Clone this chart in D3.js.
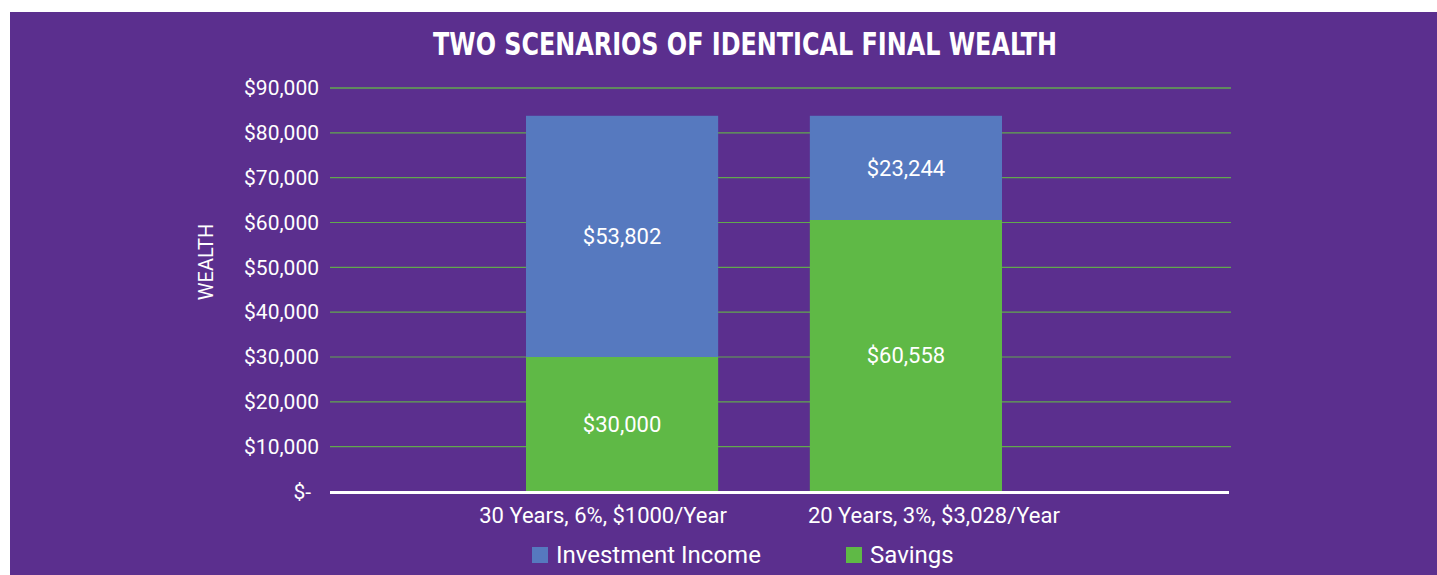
<!DOCTYPE html>
<html>
<head>
<meta charset="utf-8">
<script src="https://cdn.jsdelivr.net/npm/d3@7"></script>
<style>
  body { margin: 0; background: #ffffff; }
  svg text { font-family: Roboto, "Open Sans", sans-serif; fill: #ffffff; }
</style>
</head>
<body>
<svg id="chart"></svg>
<script>
// chart data
const categories = ['30 Years, 6%, $1000/Year', '20 Years, 3%, $3,028/Year'];
const savings = [30000, 60558];
const investmentIncome = [53802, 23244];
const seriesNames = ['Investment Income', 'Savings'];
const yTicks = [0, 10000, 20000, 30000, 40000, 50000, 60000, 70000, 80000, 90000];

const width = 1437, height = 575;
const colors = { 'Savings': '#5fb946', 'Investment Income': '#5679bf' };

const svg = d3.select('#chart')
    .attr('width', width)
    .attr('height', height);

svg.append('rect')
    .attr('x', 10).attr('y', 12)
    .attr('width', width - 10).attr('height', height - 12)
    .attr('fill', '#5b2f8e');

svg.append('text')
    .attr('x', 745).attr('y', 55)
    .attr('text-anchor', 'middle')
    .attr('textLength', 624)
    .attr('lengthAdjust', 'spacingAndGlyphs')
    .style('font-family', '"DejaVu Sans Condensed", "DejaVu Sans", sans-serif')
    .style('font-weight', 'bold')
    .style('font-size', '32px')
    .text('TWO SCENARIOS OF IDENTICAL FINAL WEALTH');

const plot = { left: 330, right: 1231, top: 88, bottom: 491.5 };

const yScale = d3.scaleLinear()
    .domain([0, 90000])
    .range([plot.bottom, plot.top]);

const xScale = d3.scaleBand()
    .domain(categories)
    .range([526, 1002])
    .paddingInner(0.323)
    .paddingOuter(0);

// grid lines
svg.append('g')
    .selectAll('line')
    .data(yTicks.filter(d => d > 0))
    .join('line')
    .attr('x1', plot.left).attr('x2', plot.right)
    .attr('y1', d => yScale(d)).attr('y2', d => yScale(d))
    .attr('stroke', '#62a84e')
    .attr('stroke-width', d => d === 90000 ? 1.6 : 1.1);

// y axis labels
const yAxis = d3.axisLeft(yScale)
    .tickValues(yTicks)
    .tickSize(0)
    .tickPadding(11)
    .tickFormat(d => d === 0 ? '$-' : '$' + d3.format(',')(d));

const yAxisG = svg.append('g')
    .attr('transform', `translate(${plot.left},0)`)
    .call(yAxis);
yAxisG.select('.domain').remove();
yAxisG.selectAll('text')
    .style('font-size', '21px')
    .style('font-weight', 400)
    .attr('fill', '#ffffff')
    .attr('dx', d => d === 0 ? -8 : 0);

// stacked bars
const rows = categories.map((c, i) => ({
    category: c,
    'Savings': savings[i],
    'Investment Income': investmentIncome[i]
}));
const stack = d3.stack().keys(['Savings', 'Investment Income'])(rows);

const layers = svg.append('g')
    .selectAll('g')
    .data(stack)
    .join('g')
    .attr('fill', d => colors[d.key]);

layers.selectAll('rect')
    .data(d => d)
    .join('rect')
    .attr('x', d => xScale(d.data.category))
    .attr('width', xScale.bandwidth())
    .attr('y', d => yScale(d[1]))
    .attr('height', d => yScale(d[0]) - yScale(d[1]));

layers.selectAll('text')
    .data(d => d)
    .join('text')
    .attr('x', d => xScale(d.data.category) + xScale.bandwidth() / 2)
    .attr('y', d => (yScale(d[0]) + yScale(d[1])) / 2)
    .attr('dy', '0.35em')
    .attr('text-anchor', 'middle')
    .style('font-size', '22px')
    .style('font-weight', 400)
    .text(d => '$' + d3.format(',')(d[1] - d[0]));

// baseline
svg.append('line')
    .attr('x1', plot.left).attr('x2', 1229)
    .attr('y1', yScale(0) + 1).attr('y2', yScale(0) + 1)
    .attr('stroke', '#ffffff')
    .attr('stroke-width', 3);

// category labels (offset like the original)
const labelShift = [-19, 28];
svg.append('g')
    .selectAll('text')
    .data(categories)
    .join('text')
    .attr('x', (d, i) => xScale(d) + xScale.bandwidth() / 2 + labelShift[i])
    .attr('y', 523)
    .attr('text-anchor', 'middle')
    .style('font-size', '22px')
    .style('font-weight', 400)
    .text(d => d);

// y axis title
svg.append('text')
    .attr('transform', 'translate(213,262) rotate(-90)')
    .attr('text-anchor', 'middle')
    .style('font-size', '20px')
    .style('font-weight', 400)
    .text('WEALTH');

// legend
const legendX = [532, 846];
const legend = svg.append('g')
    .selectAll('g')
    .data(seriesNames)
    .join('g')
    .attr('transform', (d, i) => `translate(${legendX[i]},547)`);

legend.append('rect')
    .attr('width', 16).attr('height', 16)
    .attr('fill', d => colors[d]);

legend.append('text')
    .attr('x', 24).attr('y', 15.5)
    .style('font-size', '24px')
    .style('font-weight', 400)
    .text(d => d);
</script>
</body>
</html>
